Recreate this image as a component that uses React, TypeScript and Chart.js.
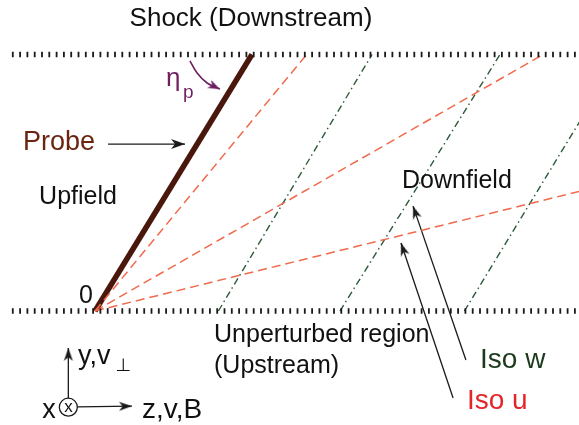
import React, { useEffect, useRef } from 'react';
import { Chart, registerables } from 'chart.js';

Chart.register(...registerables);

const W = 579;
const H = 425;

// Frame: origin at the probe foot on the upstream boundary, shock boundary at y = 100
const xRange = [-37.04, 188.69];
const yRange = [-44.44, 121.25];

// Boundaries (upstream y=0, shock y=100)
const boundaryLevels = [0, 100];
const boundaryStartX = -32.4;
const boundaryEndX = 188.7;

// Probe line from origin
const probeTipX = 61.2;
const probeTipY = 100;

// Iso-u lines (from origin)
const isoUEndX = [82.5, 174.7, 188.7];
const isoUEndY = [100, 100, 46.6];

// Iso-w lines (parallel)
const isoWStartX = [48.1, 95.5, 144.0];
const isoWEndX = [108.0, 157.9, 204.9];

// Straight arrows: probe label, iso w, iso u, y axis, z axis
const arrowFromX = [5.1, 144.6, 139.6, -10.4, -6.8];
const arrowFromY = [65.1, -19.1, -33.9, -33.9, -37.4];
const arrowToX = [35.1, 124.0, 119.3, -10.4, 14.4];
const arrowToY = [65.1, 40.9, 26.5, -14.4, -37.1];

// Curved eta_p arrow
const etaCurveX = [37.0, 39.8, 43.7, 48.7];
const etaCurveY = [97.5, 92.8, 88.9, 86.5];

// x-axis (out of page) symbol
const axisCircleX = -10.4;
const axisCircleY = -37.5;

// Labels
const labelText = ['Shock (Downstream)', 'Probe', 'Upfield', 'Downfield', '0', 'Unperturbed region', '(Upstream)', 'Iso w', 'Iso u', 'η', 'p', 'y,v', '⊥', 'x', 'x', 'z,v,B'];
const labelX = [60.8, -28.1, -21.8, 119.7, -3.5, 46.4, 46.4, 150.1, 145.0, 27.7, 34.3, -6.6, 8.0, -17.9, -10.3, 18.3];
const labelY = [113.8, 65.5, 44.4, 50.7, 5.8, -9.4, -21.4, -19.1, -35.1, 90.4, 85.0, -17.9, -21.6, -39.0, -37.4, -38.6];

// Styles
const labelStyle = [
  { c: '#111', s: 26, a: 'center' },
  { c: '#6b2410', s: 27, a: 'left' },
  { c: '#111', s: 25, a: 'left' },
  { c: '#111', s: 25, a: 'left' },
  { c: '#111', s: 25, a: 'center' },
  { c: '#111', s: 25, a: 'left' },
  { c: '#111', s: 25, a: 'left' },
  { c: '#1d3a1d', s: 28, a: 'left' },
  { c: '#e2262a', s: 28, a: 'left' },
  { c: '#6e1f5f', s: 26, a: 'left' },
  { c: '#6e1f5f', s: 19, a: 'left' },
  { c: '#111', s: 27, a: 'left' },
  { c: '#111', s: 18, a: 'left' },
  { c: '#111', s: 27, a: 'center' },
  { c: '#111', s: 17, a: 'center' },
  { c: '#111', s: 28, a: 'left' },
];
const RED = '#f06a4c';
const GREEN = '#2c5a3a';
const PROBE = '#4a170c';
const BLACK = '#1a1a1a';
const PURPLE = '#6e1f5f';
const arrowColors = [BLACK, BLACK, BLACK, BLACK, BLACK];
const arrowHeadLen = [14, 13, 13, 13, 13];
const arrowHeadWid = [10, 9, 9, 9, 9];
const FONT = '"Liberation Sans", Arial, "DejaVu Sans", sans-serif';

function arrowHead(color: string, len: number, wid: number) {
  const c = document.createElement('canvas');
  const s = Math.ceil(len * 2) + 2;
  c.width = s;
  c.height = s;
  const g = c.getContext('2d')!;
  const cx = s / 2;
  const cy = s / 2;
  g.fillStyle = color;
  g.beginPath();
  g.moveTo(cx, cy);
  g.lineTo(cx + wid / 2, cy + len);
  g.lineTo(cx, cy + len * 0.72);
  g.lineTo(cx - wid / 2, cy + len);
  g.closePath();
  g.fill();
  return c;
}

function angleDeg(x0: number, y0: number, x1: number, y1: number) {
  return (Math.atan2(x1 - x0, y1 - y0) * 180) / Math.PI;
}

const textPlugin = {
  id: 'diagramText',
  afterDatasetsDraw(chart: any) {
    const { ctx, scales } = chart;
    ctx.save();
    labelText.forEach((t, i) => {
      const st = labelStyle[i];
      ctx.font = `${st.s}px ${FONT}`;
      ctx.fillStyle = st.c;
      ctx.textAlign = st.a;
      ctx.textBaseline = 'middle';
      ctx.fillText(t, scales.x.getPixelForValue(labelX[i]), scales.y.getPixelForValue(labelY[i]));
    });
    ctx.restore();
  },
};

export default function App() {
  const ref = useRef<HTMLCanvasElement>(null);

  useEffect(() => {
    const datasets: any[] = [];
    const line = (pts: { x: number; y: number }[], extra: any) => ({
      data: pts,
      showLine: true,
      pointRadius: 0,
      fill: false,
      borderCapStyle: 'butt',
      ...extra,
    });

    boundaryLevels.forEach((b) => {
      datasets.push(
        line(
          [
            { x: boundaryStartX, y: b },
            { x: boundaryEndX, y: b },
          ],
          { borderColor: BLACK, borderWidth: 5.5, borderDash: [1.8, 5.5] }
        )
      );
    });

    isoUEndX.forEach((ex, i) => {
      datasets.push(
        line(
          [
            { x: 0, y: 0 },
            { x: ex, y: isoUEndY[i] },
          ],
          { borderColor: RED, borderWidth: 1.5, borderDash: [9, 5] }
        )
      );
    });

    isoWStartX.forEach((sx, i) => {
      datasets.push(
        line(
          [
            { x: sx, y: 0 },
            { x: isoWEndX[i], y: 100 },
          ],
          { borderColor: GREEN, borderWidth: 1.4, borderDash: [7, 3.5, 1.5, 3.5] }
        )
      );
    });

    datasets.push(
      line(
        [
          { x: 0, y: 0 },
          { x: probeTipX, y: probeTipY },
        ],
        { borderColor: PROBE, borderWidth: 5.5 }
      )
    );

    // curved eta arrow
    datasets.push(
      line(
        etaCurveX.map((x, i) => ({ x, y: etaCurveY[i] })),
        { borderColor: PURPLE, borderWidth: 1.6, tension: 0.4 }
      )
    );
    const n = etaCurveX.length;
    datasets.push({
      data: [{ x: etaCurveX[n - 1], y: etaCurveY[n - 1] }],
      showLine: false,
      pointRadius: 6,
      pointStyle: arrowHead(PURPLE, 12, 9),
      pointRotation: angleDeg(etaCurveX[n - 2], etaCurveY[n - 2], etaCurveX[n - 1], etaCurveY[n - 1]),
    });

    arrowFromX.forEach((fx, i) => {
      datasets.push(
        line(
          [
            { x: fx, y: arrowFromY[i] },
            { x: arrowToX[i], y: arrowToY[i] },
          ],
          { borderColor: arrowColors[i], borderWidth: 1.3 }
        )
      );
      datasets.push({
        data: [{ x: arrowToX[i], y: arrowToY[i] }],
        showLine: false,
        pointRadius: 6,
        pointStyle: arrowHead(arrowColors[i], arrowHeadLen[i], arrowHeadWid[i]),
        pointRotation: angleDeg(fx, arrowFromY[i], arrowToX[i], arrowToY[i]),
      });
    });

    datasets.push({
      data: [{ x: axisCircleX, y: axisCircleY }],
      showLine: false,
      pointRadius: 9,
      pointStyle: 'circle',
      pointBorderColor: BLACK,
      pointBackgroundColor: 'rgba(255,255,255,0)',
      pointBorderWidth: 1.3,
    });

    const chart = new Chart(ref.current!, {
      type: 'scatter',
      data: { datasets },
      options: {
        animation: false,
        responsive: false,
        devicePixelRatio: 1,
        events: [],
        layout: { padding: 0, autoPadding: false },
        plugins: { legend: { display: false }, tooltip: { enabled: false }, title: { display: false } },
        scales: {
          x: { type: 'linear', min: xRange[0], max: xRange[1], display: false },
          y: { type: 'linear', min: yRange[0], max: yRange[1], display: false },
        },
      },
      plugins: [textPlugin],
    } as any);
    return () => chart.destroy();
  }, []);

  return (
    <div style={{ position: 'absolute', left: 0, top: 0, width: W, height: H, background: '#fff' }}>
      <canvas ref={ref} width={W} height={H} style={{ display: 'block', width: W, height: H }} />
    </div>
  );
}
